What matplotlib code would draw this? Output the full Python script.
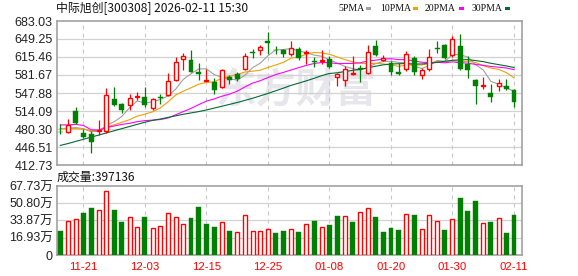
import numpy as np
import pandas as pd
import matplotlib
matplotlib.use('Agg')
import matplotlib.pyplot as plt
from matplotlib.patches import Rectangle

# ---------------- data ----------------
title = '中际旭创[300308] 2026-02-11 15:30'
vol_title = '成交量:397136'
legend_names = ['5PMA', '10PMA', '20PMA', '30PMA']
date_labels = ['11-21', '12-03', '12-15', '12-25', '01-08', '01-20', '01-30', '02-11']
date_pos = [3, 11, 19, 27, 35, 43, 51, 59]

opens = [475.5, 474.0, 514.1, 473.4, 470.3, 476.5, 476.5, 537.2, 527.9, 525.4,
         541.0, 541.0, 519.1, 540.4, 544.1, 571.6, 611.1, 610.4, 587.9, 570.4,
         568.5, 559.1, 578.0, 583.0, 592.3, 625.5, 629.2, 645.5, 629.2, 628.0,
         621.7, 631.1, 623.0, 607.9, 607.9, 612.3, 577.9, 571.6, 582.9, 595.4,
         585.4, 636.7, 610.4, 604.8, 587.9, 592.3, 614.2, 581.7, 592.3, 633.0,
         638.0, 618.6, 636.1, 602.9, 571.6, 560.4, 548.5, 560.4, 561.0, 552.9]
highs = [489.1, 499.1, 522.2, 481.0, 476.6, 496.5, 557.9, 559.8, 529.7, 546.6,
         550.4, 559.8, 539.1, 545.4, 586.0, 615.5, 622.3, 629.2, 604.8, 592.3,
         576.7, 593.5, 581.7, 587.9, 623.6, 629.8, 637.4, 662.0, 636.1, 629.8,
         645.5, 634.2, 628.6, 615.5, 629.2, 617.3, 586.0, 598.6, 617.3, 600.4,
         638.0, 646.7, 619.2, 607.9, 604.8, 626.7, 617.3, 595.4, 629.8, 645.5,
         639.0, 654.9, 659.2, 617.3, 574.8, 578.5, 564.1, 574.8, 574.8, 554.7]
lows = [470.3, 472.2, 490.3, 462.8, 435.9, 469.0, 473.4, 523.5, 509.7, 516.6,
        534.7, 521.6, 515.3, 526.6, 542.2, 570.4, 590.4, 586.7, 571.6, 569.8,
        545.4, 557.9, 564.1, 570.4, 591.0, 614.2, 619.2, 620.5, 620.5, 615.5,
        617.3, 609.2, 601.7, 596.7, 601.7, 594.2, 561.0, 561.0, 581.7, 568.5,
        582.9, 617.3, 607.9, 581.0, 581.7, 589.2, 581.7, 573.5, 589.2, 623.6,
        611.1, 615.5, 590.4, 576.7, 526.6, 556.0, 531.6, 551.6, 552.9, 521.6]
closes = [474.5, 487.8, 492.2, 465.3, 456.5, 478.5, 544.1, 524.7, 515.3, 538.5,
          542.2, 524.5, 536.0, 537.9, 570.4, 606.7, 617.3, 587.9, 582.9, 571.6,
          552.9, 591.0, 572.0, 573.5, 616.7, 623.0, 634.2, 641.1, 628.6, 620.5,
          631.7, 612.9, 624.2, 606.1, 609.2, 597.3, 584.2, 592.3, 586.0, 592.9,
          624.8, 618.6, 613.0, 587.3, 582.9, 621.7, 587.3, 590.4, 615.5, 629.8,
          614.2, 648.6, 592.3, 590.4, 561.5, 562.5, 541.0, 566.6, 554.7, 531.6]
# volume in 万 (10k)
volumes = [23.7, 33.2, 35.2, 41.4, 46.4, 44.1, 62.8, 44.4, 32.6, 37.2,
           27.3, 37.5, 26.3, 28.3, 41.4, 37.2, 30.6, 36.5, 47.3, 30.6,
           27.6, 32.6, 23.7, 22.7, 39.1, 23.7, 23.7, 25.3, 21.7, 23.7,
           25.3, 22.7, 30.2, 33.5, 27.3, 29.6, 38.5, 38.1, 32.6, 42.1,
           46.0, 37.5, 22.7, 26.6, 24.7, 40.1, 39.5, 25.3, 39.1, 33.2,
           24.7, 35.2, 56.2, 43.4, 53.3, 31.6, 32.6, 36.2, 21.7, 39.7136]

ma5_head = [481, 482, 483, 481]
ma10_head = [481, 481, 481, 480, 477, 478, 484, 488, 493]
ma20_head = [488, 488, 489, 487, 479, 478, 483, 486, 489, 491,
             494, 496, 497, 498, 501, 507, 513, 519, 526]
ma30_head = [449.5, 453, 457, 461, 465, 469, 473, 477, 481, 485,
             489, 493, 496.5, 499, 502, 505, 508, 510.5, 513, 516,
             519.5, 523, 526.5, 530, 534, 538, 542.5, 547, 552]

price_ticks = [412.73, 446.51, 480.30, 514.09, 547.88, 581.67, 615.46, 649.25, 683.03]
price_tick_labels = ['412.73', '446.51', '480.30', '514.09', '547.88', '581.67', '615.46', '649.25', '683.03']
vol_ticks = [0, 16.93, 33.87, 50.80, 67.73]
vol_tick_labels = ['0', '16.93万', '33.87万', '50.80万', '67.73万']
watermark = '东方财富'

# ---------------- styling ----------------
RED = '#ff0000'
GREEN = '#008000'
MA_COLORS = ['#a0a0a0', '#f0a000', '#ff00ff', '#006a30']
GRID = '#d2d2d2'
SPINE = '#9a9a9a'
CJK = ['Noto Sans CJK SC', 'DejaVu Sans']
LAB = ['Liberation Sans', 'Noto Sans CJK SC', 'DejaVu Sans']

W, H = 578, 276
fig = plt.figure(figsize=(W / 100, H / 100), dpi=100)
fig.patch.set_facecolor('white')

def fx(px):
    return px / W

def fy(py):
    return 1 - py / H

ax = fig.add_axes([fx(57), fy(165), 465 / W, 144 / H])
axv = fig.add_axes([fx(57), fy(255), 465 / W, 69 / H])

o = np.array(opens)
hi = np.array(highs)
lo = np.array(lows)
c = np.array(closes)
v = np.array(volumes)
n = len(c)
x = np.arange(n)
xl = (-0.43, -0.43 + 465 / 7.69)

def moving(win, head):
    m = pd.Series(c).rolling(win).mean().to_numpy()
    m[:win - 1] = head
    return m

mas = [moving(5, ma5_head), moving(10, ma10_head), moving(20, ma20_head), moving(30, ma30_head)]

for a in (ax, axv):
    a.set_xlim(*xl)
    for s in a.spines.values():
        s.set_color(SPINE)
        s.set_linewidth(1.1)
    a.tick_params(length=0)
    for p in date_pos:
        a.axvline(p, color='#c8c8c8', lw=0.8, ls=(0, (3.6, 3.6)), zorder=1)

# ---- price panel ----
ax.set_ylim(price_ticks[0], price_ticks[-1])
ax.set_yticks(price_ticks)
ax.set_yticklabels(price_tick_labels, fontsize=9, color='#222222', family=LAB)
ax.tick_params(axis='y', pad=3)
ax.set_xticks([])
for t in price_ticks[1:-1]:
    ax.axhline(t, color=GRID, lw=0.9, zorder=1)

ax.text(fx(296), fy(91), watermark, fontsize=29, fontweight='bold', color='#e6e6ec',
        family=CJK, ha='center', va='center', zorder=0.5,
        transform=fig.transFigure)

for m, col in zip(mas, MA_COLORS):
    ax.plot(x, m, color=col, lw=0.8, zorder=2)

up = c >= o
col_c = np.where(up, RED, GREEN)
ax.vlines(x, lo, hi, colors=col_c, lw=0.9, zorder=3)
bot = np.minimum(o, c)
hgt = np.maximum(np.abs(c - o), 0.6)
ax.bar(x[up], hgt[up], bottom=bot[up], width=0.52, facecolor='white',
       edgecolor=RED, lw=1.0, zorder=4)
ax.bar(x[~up], hgt[~up], bottom=bot[~up], width=0.64, facecolor=GREEN,
       edgecolor=GREEN, lw=0.3, zorder=4)

# ---- volume panel ----
axv.set_ylim(vol_ticks[0], vol_ticks[-1])
axv.set_yticks(vol_ticks)
axv.set_yticklabels(vol_tick_labels, fontsize=9, color='#222222', family=LAB)
axv.tick_params(axis='y', pad=3)
for t in vol_ticks[1:-1]:
    axv.axhline(t, color=GRID, lw=0.9, zorder=1)
vup = np.r_[False, np.diff(c) > 0]
axv.bar(x[vup], v[vup], width=0.52, facecolor='white', edgecolor=RED, lw=1.0, zorder=3)
axv.bar(x[~vup], v[~vup], width=0.64, facecolor=GREEN, edgecolor=GREEN, lw=0.3, zorder=3)
axv.set_xticks(date_pos)
axv.set_xticklabels(date_labels, fontsize=8.2, color=RED, family=LAB)
axv.tick_params(axis='x', pad=5)

# ---- header texts ----
fig.text(fx(56.5), fy(8.5), title, fontsize=8.6, family=CJK, color='#111111',
         ha='left', va='center')
fig.text(fx(57), fy(177.5), vol_title, fontsize=8.6, family=CJK, color='#111111',
         ha='left', va='center')

leg_text_x = [338, 380, 425, 472]
leg_sw_x = [366, 413, 459, 505]
for name, tx, sx, col in zip(legend_names, leg_text_x, leg_sw_x, MA_COLORS):
    fig.text(fx(tx), fy(8.5), name, fontsize=7, family=['Liberation Serif', 'DejaVu Serif'],
             color='#111111', ha='left', va='center')
    fig.patches.append(Rectangle((fx(sx), fy(10.3)), 5 / W, 3.3 / H,
                                 transform=fig.transFigure, facecolor=col,
                                 edgecolor='none'))

fig.savefig('out.png', dpi=100, facecolor='white')
